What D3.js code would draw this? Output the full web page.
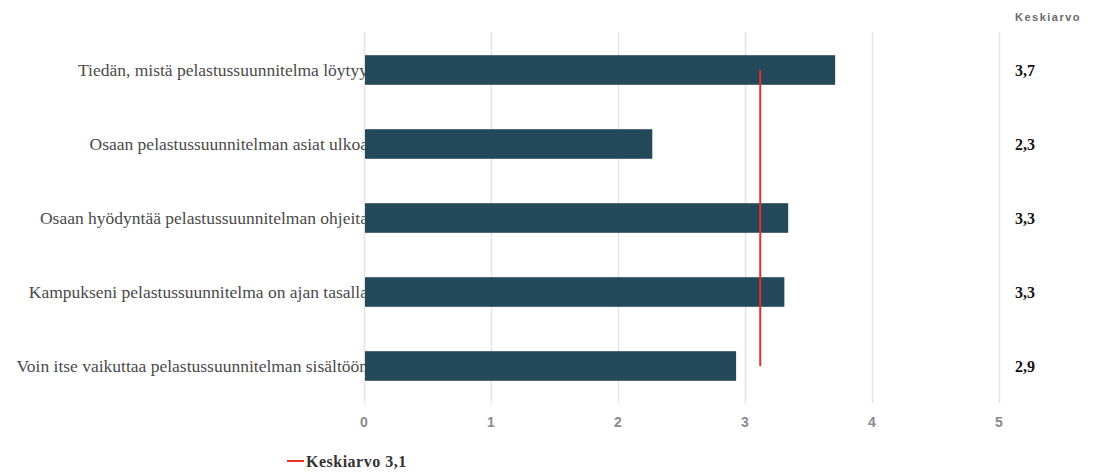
<!doctype html>
<html lang="en">
  <head>
    <meta charset="utf-8">
    <title>Pelastussuunnitelma</title>
    <style>
      body { margin: 0; background: #fff; }
      svg { display: block; }
    </style>
  </head>
  <body>
    <script src="https://cdn.jsdelivr.net/npm/d3@7"></script>
    <script>
      var categories = [
        "Tiedän, mistä pelastussuunnitelma löytyy",
        "Osaan pelastussuunnitelman asiat ulkoa",
        "Osaan hyödyntää pelastussuunnitelman ohjeita",
        "Kampukseni pelastussuunnitelma on ajan tasalla",
        "Voin itse vaikuttaa pelastussuunnitelman sisältöön"
      ];
      var values = [3.71, 2.27, 3.34, 3.31, 2.93];
      var meanValue = 3.12;
      var ticks = [0, 1, 2, 3, 4, 5];

      var fmt = function(v){ return d3.format(".1f")(v).replace(".", ","); };

      var W = 1102, H = 473;
      var svg = d3.select("body").append("svg")
        .attr("width", W).attr("height", H);

      var x = d3.scaleLinear().domain([0, 5]).range([364, 999]);
      var y = d3.scaleBand().domain(categories).range([33, 403]).paddingInner(0.6).paddingOuter(0.3);

      // gridlines
      svg.append("g").selectAll("line")
        .data(ticks).enter().append("line")
        .attr("x1", function(d){ return Math.round(x(d)) + 0.5; })
        .attr("x2", function(d){ return Math.round(x(d)) + 0.5; })
        .attr("y1", 32).attr("y2", 403)
        .attr("stroke", "#e4e4e4").attr("stroke-width", 1.5);

      // category labels (drawn before bars so bars cover the overflow)
      svg.append("g").selectAll("text")
        .data(categories).enter().append("text")
        .attr("x", 368)
        .attr("y", function(d){ return y(d) + y.bandwidth()/2; })
        .attr("dy", "0.35em")
        .attr("text-anchor", "end")
        .attr("font-family", "'Liberation Serif', 'Times New Roman', serif")
        .attr("font-size", 17.5)
        .attr("fill", "#4a4a4a")
        .text(function(d){ return d; });

      // bars
      svg.append("g").selectAll("rect")
        .data(values).enter().append("rect")
        .attr("x", x(0) + 1)
        .attr("y", function(d, i){ return y(categories[i]); })
        .attr("width", function(d){ return x(d) - x(0) - 1; })
        .attr("height", y.bandwidth())
        .attr("fill", "#23495a");

      // mean line
      svg.append("line")
        .attr("x1", x(meanValue)).attr("x2", x(meanValue))
        .attr("y1", y(categories[0]) + y.bandwidth()/2)
        .attr("y2", y(categories[categories.length-1]) + y.bandwidth()/2)
        .attr("stroke", "#e8302a").attr("stroke-width", 2);

      // x axis labels
      svg.append("g").selectAll("text")
        .data(ticks).enter().append("text")
        .attr("x", function(d){ return x(d); })
        .attr("y", 422)
        .attr("dy", "0.35em")
        .attr("text-anchor", "middle")
        .attr("font-family", "'Liberation Sans', Arial, sans-serif")
        .attr("font-size", 14).attr("font-weight", "bold")
        .attr("fill", "#8a8a8a")
        .text(function(d){ return d; });

      // Keskiarvo column
      svg.append("text")
        .attr("x", 1048).attr("y", 17)
        .attr("dy", "0.35em")
        .attr("text-anchor", "middle")
        .attr("font-family", "'Liberation Sans', Arial, sans-serif")
        .attr("font-size", 11).attr("font-weight", "bold")
        .attr("letter-spacing", 1.5)
        .attr("fill", "#6a6a6a")
        .text("Keskiarvo");

      svg.append("g").selectAll("text")
        .data(values).enter().append("text")
        .attr("x", 1025)
        .attr("y", function(d, i){ return y(categories[i]) + y.bandwidth()/2; })
        .attr("dy", "0.35em")
        .attr("text-anchor", "middle")
        .attr("font-family", "'Liberation Serif', 'Times New Roman', serif")
        .attr("font-size", 16).attr("font-weight", "bold")
        .attr("fill", "#111")
        .text(function(d){ return fmt(d); });

      // legend
      var lg = svg.append("g").attr("transform", "translate(287,461)");
      lg.append("line").attr("x1", 0).attr("x2", 17).attr("y1", 0).attr("y2", 0)
        .attr("stroke", "#e8302a").attr("stroke-width", 2);
      lg.append("text").attr("x", 19).attr("y", 0).attr("dy", "0.35em")
        .attr("font-family", "'Liberation Serif', 'Times New Roman', serif")
        .attr("font-size", 16).attr("font-weight", "bold")
        .attr("letter-spacing", 0.5)
        .attr("fill", "#333")
        .text("Keskiarvo " + fmt(meanValue));
    </script>
  </body>
</html>
